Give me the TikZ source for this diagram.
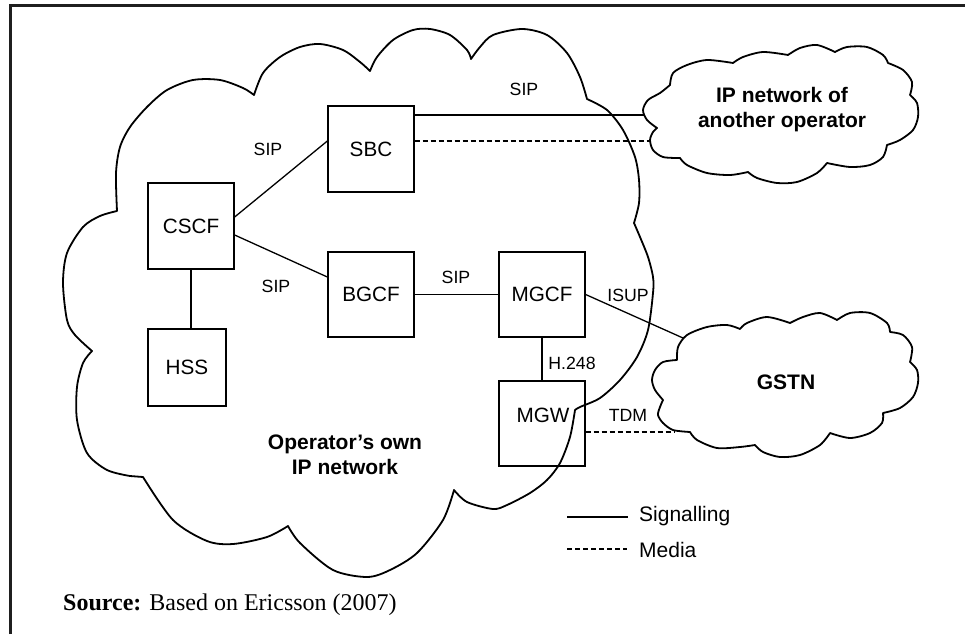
\documentclass[tikz,border=0pt]{standalone}
\usepackage{fontspec}
\setmainfont{Liberation Sans}
\newfontfamily\srcfont{Liberation Serif}

\begin{document}
\begin{tikzpicture}[x=1pt, y=-1pt,
  box/.style={draw, line width=1.3pt, minimum width=86pt, minimum height=86pt,
    inner sep=0pt, font=\fontsize{20.7}{24}\selectfont},
  sig/.style={line width=1.3pt},
  media/.style={line width=1.3pt, dash pattern=on 5pt off 3pt},
  lbl/.style={inner sep=0pt, font=\fontsize{17.7}{20}\selectfont},
  netname/.style={inner sep=0pt, align=center, font=\bfseries\fontsize{21}{24.5}\selectfont},
  legtext/.style={inner sep=0pt, anchor=base west, font=\fontsize{21}{24}\selectfont},
  cloudline/.style={line width=1.8pt, line join=round},
  frameline/.style={line width=3pt, color=black!88}]
\useasboundingbox (0,0) rectangle (965,634);

% partial frame: top and left edges
\draw[frameline] (10,634) -- (10,6) -- (965,6);

% operator's own IP network
\draw[cloudline]
  plot[smooth] coordinates {(117,211) (116,173) (120,147) (130,127) (147,107) (167,90) (193,80) (220,80) (243,88) (254,95)}
  -- plot[smooth] coordinates {(254,95) (263,73) (280,57) (300,47) (320,44) (343,50) (360,62) (370,71)}
  -- plot[smooth] coordinates {(370,71) (377,57) (393,40) (413,30) (430,29) (450,35) (467,50) (471,59)}
  -- plot[smooth] coordinates {(471,59) (480,47) (493,35) (522,29) (547,35) (567,53) (580,77) (587,99)}
  -- plot[smooth] coordinates {(587,99) (607,110) (623,130) (635,157) (639,180) (639,203) (634,223)}
  -- plot[smooth] coordinates {(634,223) (640,237) (648,257) (653,277) (653,293) (648,330) (637,357) (620,380) (600,398) (580,407) (575,410)}
  -- plot[smooth] coordinates {(575,410) (570,437) (560,463) (547,480) (530,493) (507,505) (493,509) (467,502) (454,490)}
  -- plot[smooth] coordinates {(454,490) (443,520) (417,553) (390,570) (367,577) (333,570) (300,543) (288,526)}
  -- plot[smooth] coordinates {(288,526) (267,537) (233,544) (207,541) (173,520) (143,477)}
  -- (130,476)
  -- plot[smooth] coordinates {(130,476) (107,470) (87,453) (77,420) (77,387) (83,363) (92,351)}
  -- plot[smooth] coordinates {(92,351) (75,335) (67,320) (63,283) (67,253) (83,227) (100,216) (117,211)}
  -- cycle;

% IP network of another operator
\draw[cloudline]
  plot[smooth] coordinates {(670,85) (673,73) (687,65) (707,60) (733,63)}
  -- plot[smooth] coordinates {(733,63) (743,57) (763,52) (788,55)}
  -- plot[smooth] coordinates {(788,55) (800,48) (817,45) (835,52)}
  -- plot[smooth] coordinates {(835,52) (847,47) (867,47) (883,55) (888,63)}
  -- plot[smooth] coordinates {(888,63) (903,70) (912,82) (910,95)}
  -- plot[smooth] coordinates {(910,95) (917,103) (918,117) (913,130) (900,140) (887,145)}
  -- plot[smooth] coordinates {(887,145) (883,157) (870,165) (850,167) (827,163)}
  -- plot[smooth] coordinates {(827,163) (817,173) (797,182) (777,183) (757,178) (748,172)}
  -- plot[smooth] coordinates {(748,172) (730,175) (707,173) (687,165) (680,158)}
  -- plot[smooth] coordinates {(680,158) (663,157) (653,150) (650,140) (653,132) (657,128)}
  -- plot[smooth] coordinates {(657,128) (647,120) (643,110) (648,100) (660,93) (670,85)}
  -- cycle;

% GSTN
\draw[cloudline]
  plot[smooth] coordinates {(677,360) (678,347) (687,335) (707,327) (727,325) (740,329)}
  -- plot[smooth] coordinates {(740,329) (747,323) (767,317) (790,323)}
  -- plot[smooth] coordinates {(790,323) (803,317) (820,313) (837,320)}
  -- plot[smooth] coordinates {(837,320) (850,313) (870,313) (887,323) (890,332)}
  -- plot[smooth] coordinates {(890,332) (903,335) (912,347) (910,362)}
  -- plot[smooth] coordinates {(910,362) (917,370) (918,383) (913,397) (900,408) (883,413)}
  -- plot[smooth] coordinates {(883,413) (882,423) (870,433) (850,438) (830,433)}
  -- plot[smooth] coordinates {(830,433) (820,445) (800,455) (780,457) (763,452) (755,445)}
  -- plot[smooth] coordinates {(755,445) (740,447) (717,448) (697,440) (690,432)}
  -- plot[smooth] coordinates {(690,432) (673,430) (663,423) (658,415) (660,407) (663,400)}
  -- plot[smooth] coordinates {(663,400) (655,390) (652,380) (655,370) (663,362) (677,360)}
  -- cycle;

% network names
\node[netname] (ownnet) at (345,455) {Operator’s own\\IP network};
\node[netname] (ipnet) at (782,109.5) {IP network of\\another operator};
\node[netname] (gstn) at (786,382.5) {GSTN};

% network elements
\node[box] (sbc) at (371,149) {SBC};
\node[box] (cscf) at (191,226) {CSCF};
\node[box, minimum height=85pt] (bgcf) at (371,294.5) {BGCF};
\node[box, minimum width=78pt, minimum height=77pt] (hss) at (187,367.5) {HSS};
\node[box, minimum height=85pt] (mgcf) at (542,294.5) {MGCF};
\node[box, minimum height=85pt] (mgw) at (542,423.5) {};
\node[inner sep=0pt, font=\fontsize{20.7}{24}\selectfont] (mgwname) at (543,415.5) {MGW};

% attachment points on the outer networks
\coordinate (ipA) at (645,115);
\coordinate (ipB) at (650,141);
\coordinate (gsA) at (683,338);
\coordinate (gsB) at (675,432);

% signalling links
\draw[sig] ([yshift=9pt]cscf.east) -- ([yshift=8pt]sbc.west);
\draw[sig] ([yshift=-9pt]cscf.east) -- ([yshift=17.5pt]bgcf.west);
\draw[sig] (cscf.south) -- (cscf.south |- hss.north);
\draw[sig] (bgcf.east) -- (mgcf.west);
\draw[sig] (mgcf.south) -- (mgw.north);
\draw[sig] (sbc.east |- ipA) -- (ipA);
\draw[sig] (mgcf.east) -- (gsA);

% media links
\draw[media] (sbc.east |- ipB) -- (ipB);
\draw[media] (mgw.east |- gsB) -- (gsB);

% link labels
\node[lbl] (sip1) at (268,149) {SIP};
\node[lbl] (sip2) at (276,286) {SIP};
\node[lbl] (sip3) at (524,89) {SIP};
\node[lbl] (sip4) at (456,277) {SIP};
\node[lbl] (isup) at (628,295) {ISUP};
\node[lbl] (h248) at (572,363) {H.248};
\node[lbl] (tdm) at (628,415) {TDM};

% legend
\coordinate (legSa) at (567,517);
\coordinate (legSb) at (628,517);
\coordinate (legMa) at (567,549);
\coordinate (legMb) at (627,549);
\draw[sig] (legSa) -- (legSb);
\draw[media] (legMa) -- (legMb);
\node[legtext] (legS) at (639,521) {Signalling};
\node[legtext] (legM) at (639,557) {Media};

% source line
\node[inner sep=0pt, anchor=base west, font=\srcfont\fontsize{24}{28}\selectfont] (src)
  at (63,610) {\textbf{Source:} Based on Ericsson (2007)};
\end{tikzpicture}
\end{document}
